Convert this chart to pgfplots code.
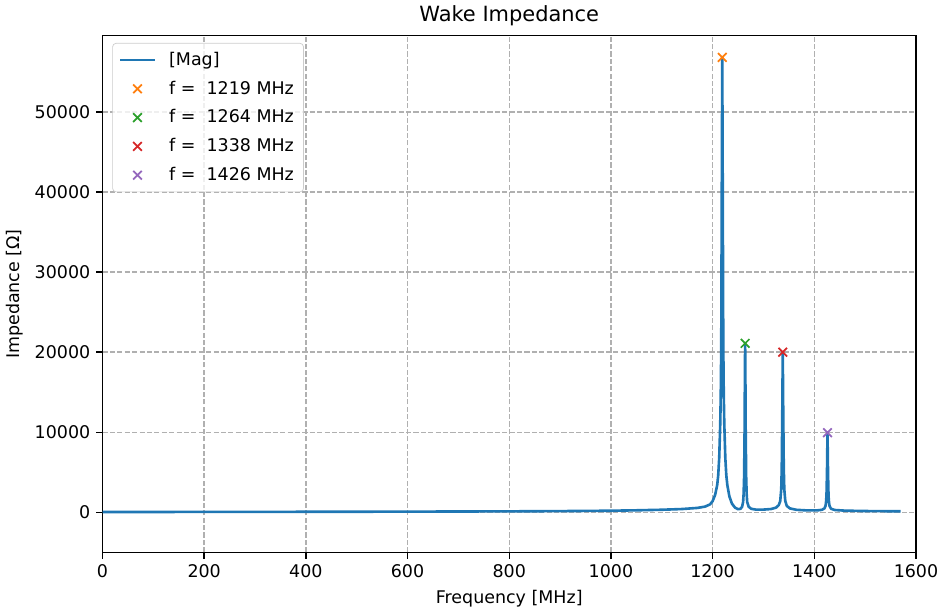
\documentclass[border=0pt]{standalone}
\usepackage{fontspec}
\setmainfont{DejaVu Sans}
\usepackage{pgfplots}
\pgfplotsset{compat=1.18}
\definecolor{tabblue}{HTML}{1F77B4}
\definecolor{taborange}{HTML}{FF7F0E}
\definecolor{tabgreen}{HTML}{2CA02C}
\definecolor{tabred}{HTML}{D62728}
\definecolor{tabpurple}{HTML}{9467BD}
\pgfplotsset{
  lineleg/.style={legend image code/.code={\draw[#1] (0pt,0pt) -- (20pt,0pt);}},
  xleg/.style={only marks, mark=x, mark size=3.5pt, mark options={line width=1pt},
    legend image code/.code={\draw[#1,mark repeat=2,mark phase=2] plot coordinates {(0pt,0pt) (10pt,0pt) (20pt,0pt)};}},
}
\begin{document}
\begin{tikzpicture}
\begin{axis}[
  scale only axis,
  width=466pt, height=296pt,
  xmin=0, xmax=1600, ymin=-5000, ymax=59500,
  xtick={0,200,...,1600},
  ytick={0,10000,20000,30000,40000,50000},
  scaled y ticks=false,
  /pgf/number format/assume math mode=true,
  /pgf/number format/1000 sep={},
  tick label style={font=\fontsize{10}{12}\selectfont},
  label style={font=\fontsize{10}{12}\selectfont},
  title style={font=\fontsize{12}{14}\selectfont, yshift=-4pt},
  title={Wake Impedance},
  xlabel={Frequency [MHz]},
  ylabel={Impedance [Ω]},
  grid=major,
  major grid style={dash pattern=on 2.96pt off 1.28pt, line width=0.8pt, color=black!31},
  tick align=outside,
  tick pos=left,
  major tick length=3.5pt,
  tick style={black, line width=0.8pt},
  axis line style={line width=0.8pt},
  legend cell align=left,
  legend style={at={(0.012,0.986)}, anchor=north west, draw=black!20, rounded corners=2pt,
    fill=white, fill opacity=0.8, text opacity=1, font=\fontsize{10}{12}\selectfont,
    inner xsep=3.5pt, inner ysep=3pt, row sep=3.4pt,
    /tikz/every odd column/.append style={column sep=5.4pt}},
]
\addplot[color=tabblue, line width=1.5pt, line join=round, lineleg] coordinates {
(0,50) (200,60) (400,75) (600,95) (800,130) (900,160) (1000,210) (1050,260)
(1100,330) (1140,420) (1170,560) (1185,720) (1195,1000)
(1200,1400) (1205,2200) (1209,3400) (1211,4600) (1213,6800) (1215,11000)
(1216,14500) (1217,20800) (1218,39500) (1219,56800) (1220,39500) (1221,20800)
(1222,14500) (1223,11000) (1225,6800) (1227,4600) (1229,3400) (1233,2000)
(1238,1100) (1244,600) (1250,400) (1255,450) (1258,700) (1260,1300) (1261,2300)
(1262,4500) (1263,10800) (1263.5,17000) (1264,21100) (1264.5,17000) (1265,10800)
(1266,4500) (1267,2300) (1268,1300) (1271,700) (1276,450) (1285,350) (1300,350)
(1315,420) (1325,600) (1330,900) (1333,1400) (1335,2900) (1336,5500) (1337,12000)
(1338,20000) (1339,12000) (1340,5500) (1341,2900) (1343,1400) (1346,800) (1352,500)
(1365,320) (1385,250) (1405,250) (1415,320) (1420,500) (1422,800) (1423,1200)
(1424,2100) (1425,5000) (1426,9950) (1427,5000) (1428,2100) (1429,1200) (1430,800)
(1433,450) (1440,300) (1460,220) (1500,170) (1540,150) (1570,140)
};
\addlegendentry{[Mag]}
\addplot[xleg, color=taborange] coordinates {(1219,56800)};
\addlegendentry{f =\ \ 1219 MHz}
\addplot[xleg, color=tabgreen] coordinates {(1264,21100)};
\addlegendentry{f =\ \ 1264 MHz}
\addplot[xleg, color=tabred] coordinates {(1338,20000)};
\addlegendentry{f =\ \ 1338 MHz}
\addplot[xleg, color=tabpurple] coordinates {(1426,9950)};
\addlegendentry{f =\ \ 1426 MHz}
\end{axis}
\end{tikzpicture}
\end{document}
